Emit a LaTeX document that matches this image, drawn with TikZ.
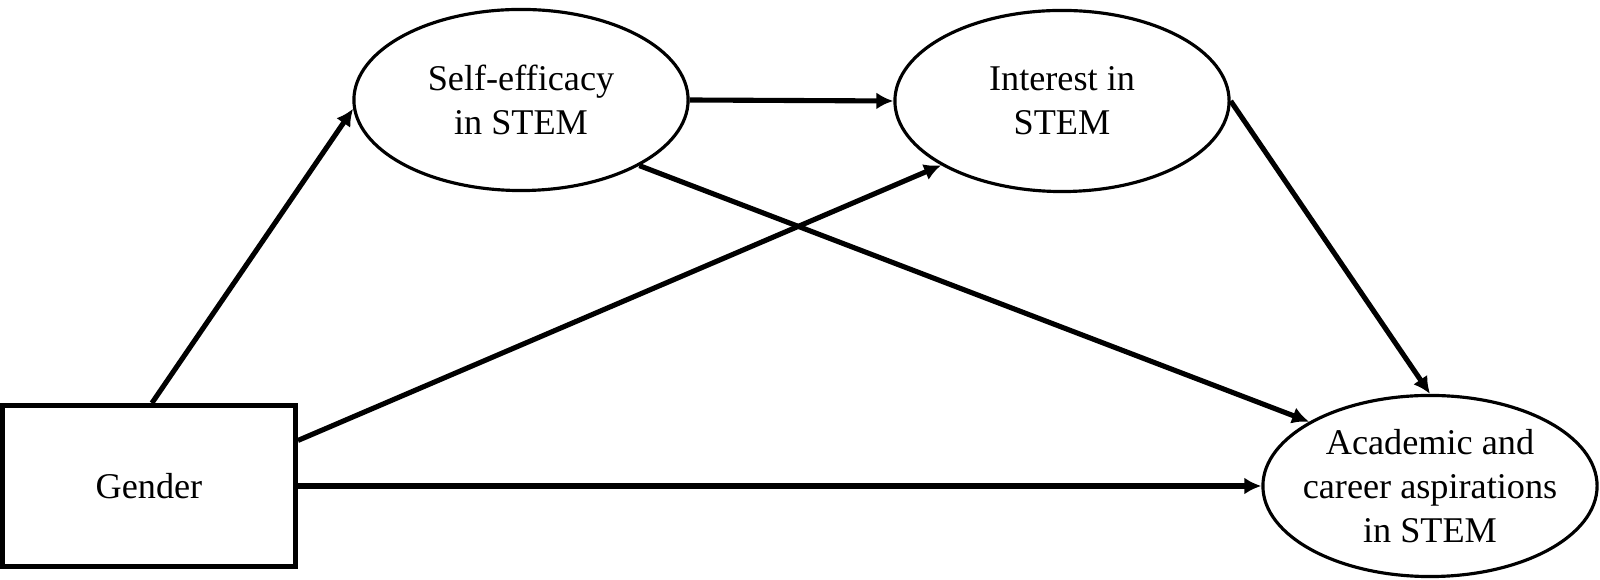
\documentclass[tikz,border=0pt]{standalone}
\usepackage{fontspec}
\setmainfont{Liberation Serif}
\usetikzlibrary{shapes.geometric,arrows.meta}
\tikzset{
    latent/.style={ellipse,draw,line width=0.9pt,inner sep=-0.3cm,
      minimum width=3.34cm,minimum height=1.81cm,align=center,
      font=\fontsize{10.3}{12.5}\selectfont},
    observed/.style={rectangle,draw,line width=1.35pt,inner sep=0pt,
      minimum width=2.93cm,minimum height=1.61cm,
      font=\fontsize{10.3}{12.5}\selectfont},
    path/.style={line width=1.45pt,-{Latex[length=0.17cm,width=0.17cm]}},
  }
\begin{document}
\begin{tikzpicture}[x=0.01cm,y=-0.01cm]
				  \useasboundingbox (0,0) rectangle (1600,580);
				  
				  %VARIABLES
				  \node[observed] (gender) at (149,486) {Gender};
				  \node[latent] (selfeff) at (521,100) {Self-efficacy\\in STEM};
				  \node[latent] (interest) at (1062,101) {Interest in\\STEM};
				  \node[latent] (aspir) at (1430,486) {Academic and\\career aspirations\\in STEM};
				  
				  %CHEMINS
				  \draw[path] (gender.88) -- (selfeff.183);
				  \draw[path] (gender.17) -- (interest.208);
				  \draw[path] (gender.east) -- (aspir.west);
				  \draw[path] (selfeff.east) -- (interest.west);
				  \draw[path] (selfeff.331) -- (aspir.152);
				  \draw[path] (interest.east) -- (aspir.north);
				  \end{tikzpicture}
\end{document}
